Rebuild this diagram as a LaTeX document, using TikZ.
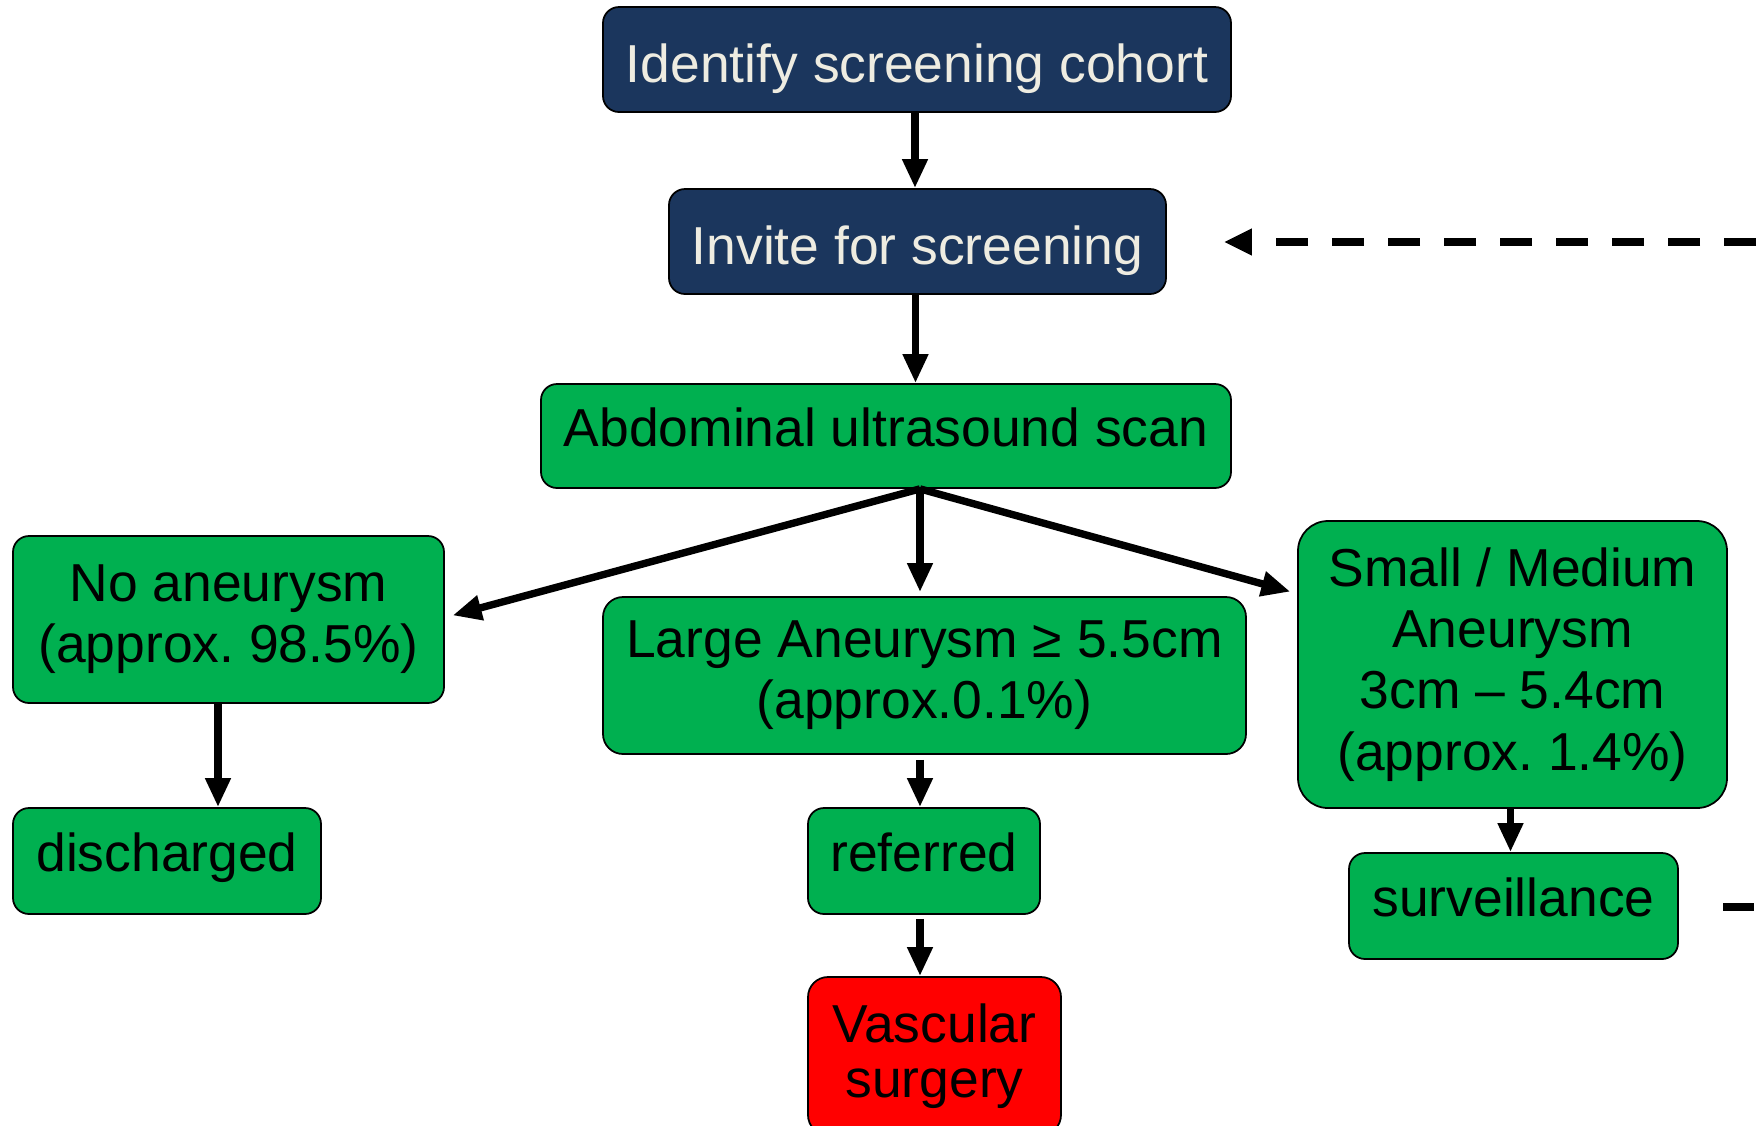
\documentclass[tikz,border=0pt]{standalone}
\usepackage{fontspec}
\setmainfont{Liberation Sans}
\usetikzlibrary{arrows.meta}
\frenchspacing

\definecolor{navy}{RGB}{27,54,93}
\definecolor{cream}{RGB}{238,236,225}
\definecolor{okgreen}{RGB}{0,176,80}
\definecolor{alarmred}{RGB}{255,0,0}

\tikzset{
	box/.style={draw=black,line width=0.5pt,rounded corners=0.16cm,inner sep=0pt,
		align=center,font=\fontsize{15.2}{17.4}\selectfont},
	oneline/.style={text height=0.8em,text depth=0.2em},
	navybox/.style={box,fill=navy,text=cream,text height=1.3em,text depth=0em},
	greenbox/.style={box,fill=okgreen,text=black},
	redbox/.style={box,fill=alarmred,text=black,font=\fontsize{15.2}{15.7}\selectfont},
	arr/.style={line width=2.1pt,-{Triangle[length=0.29cm,width=0.24cm]}},
	dasharr/.style={line width=2.2pt,dash pattern=on 0.32cm off 0.24cm,dash phase=0.52cm,
		-{Triangle[length=0.28cm,width=0.25cm]}},
	dashline/.style={line width=2.2pt,dash pattern=on 0.31cm off 0.24cm}
}

\begin{document}
\begin{tikzpicture}
	
	% Rahmen
	\useasboundingbox (0,0) rectangle (17.6,-11.25);
	
	% Einladung
	\node[navybox,minimum width=6.28cm,minimum height=1.05cm] (ident) at (9.17,-0.595) {Identify screening cohort};
	\node[navybox,minimum width=4.97cm,minimum height=1.05cm] (invite) at (9.175,-2.415) {Invite for screening};
	
	% Untersuchung
	\node[greenbox,oneline,minimum width=6.90cm,minimum height=1.04cm] (scan) at (8.86,-4.36) {Abdominal ultrasound scan};
	
	% Ergebnisse
	\node[greenbox,minimum width=4.31cm,minimum height=1.67cm] (noaneu) at (2.285,-6.195) {No aneurysm\\(approx. 98.5\%)};
	\node[greenbox,rounded corners=0.2cm,minimum width=6.43cm,minimum height=1.57cm] (large) at (9.245,-6.755) {Large Aneurysm ≥ 5.5cm\\(approx.0.1\%)};
	\node[greenbox,rounded corners=0.3cm,minimum width=4.29cm,minimum height=2.87cm] (small) at (15.125,-6.645) {Small / Medium\\Aneurysm\\3cm -- 5.4cm\\(approx. 1.4\%)};
	
	% Weiteres Vorgehen
	\node[greenbox,oneline,minimum width=3.08cm,minimum height=1.06cm] (disch) at (1.67,-8.61) {discharged};
	\node[greenbox,oneline,minimum width=2.32cm,minimum height=1.06cm] (refer) at (9.24,-8.61) {referred};
	\node[greenbox,oneline,minimum width=3.29cm,minimum height=1.06cm] (surv) at (15.135,-9.06) {surveillance};
	\node[redbox,rounded corners=0.2cm,minimum width=2.53cm,minimum height=1.58cm] (surgery) at (9.345,-10.56) {Vascular\\surgery};
	
	% Pfeile
	\draw[arr] ([xshift=-0.2mm]ident.south) -- ([xshift=-0.2mm]ident.south |- invite.north);
	\draw[arr] ([xshift=-0.2mm]invite.south) -- ([xshift=-0.2mm]invite.south |- scan.north);
	\coordinate (fork) at ([xshift=3.4mm]scan.south);
	\draw[arr,shorten >=0.8mm] (fork) -- ([yshift=0.2mm]noaneu.east);
	\draw[arr,shorten >=0.4mm] (fork) -- (fork |- large.north);
	\draw[arr,shorten >=0.7mm] (fork) -- ([yshift=7.1mm]small.west);
	\draw[arr] ([xshift=-1.05mm]noaneu.south) -- ([xshift=-1.05mm]noaneu.south |- disch.north);
	\draw[arr,shorten <=0.5mm] ([xshift=-0.4mm]refer.north |- large.south) -- ([xshift=-0.4mm]refer.north);
	\draw[arr,shorten <=0.4mm] ([xshift=-0.4mm]refer.south) -- ([xshift=-0.4mm]refer.south |- surgery.north);
	\draw[arr] ([xshift=-0.2mm]small.south) -- ([xshift=-0.2mm]small.south |- surv.north);
	
	% Rueckweg (gestrichelt)
	\coordinate (backR) at (17.6,-2.42);
	\draw[dasharr,shorten >=0.57cm] (backR) -- (invite.east |- backR);
	\coordinate (survR) at (17.6,-9.07);
	\draw[dashline] ([xshift=4.45mm]surv.east |- survR) -- (survR);
	
\end{tikzpicture}
\end{document}
